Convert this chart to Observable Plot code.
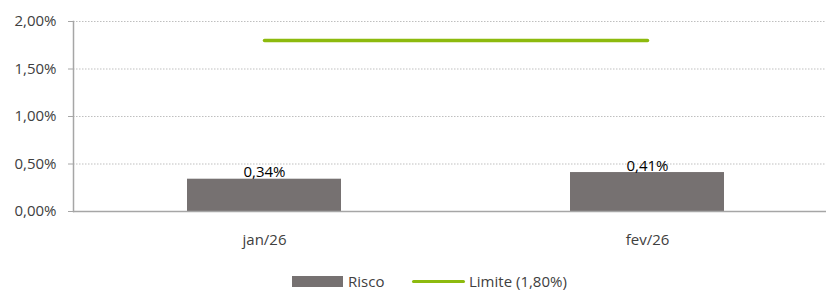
<!DOCTYPE html>
<html>
<head>
<meta charset="utf-8">
<script src="https://cdn.jsdelivr.net/npm/d3@7"></script>
<script src="https://cdn.jsdelivr.net/npm/@observablehq/plot@0.6"></script>
<style>
  html, body { margin: 0; padding: 0; background: #fff; }
  body { width: 828px; height: 292px; overflow: hidden; font-family: "Open Sans", sans-serif; }
  #legend { position: relative; height: 40px; font-size: 15px; color: #404040; }
  .item { position: absolute; top: 19px; display: flex; align-items: center; }
  .sw-bar { width: 51px; height: 11px; background: #767171; margin-right: 5px; }
  .sw-line { width: 53px; height: 3px; background: #8DBA0E; border-radius: 2px; margin-right: 4px; }
</style>
</head>
<body>
<div id="chart"></div>
<div id="legend">
  <div class="item" style="left:292px"><div class="sw-bar"></div><span>Risco</span></div>
  <div class="item" style="left:412px"><div class="sw-line"></div><span>Limite (1,80%)</span></div>
</div>
<script>
const categories = ["jan/26", "fev/26"];
const risco = [0.0034, 0.0041];
const limite = [0.018, 0.018];
const yTicks = [0, 0.005, 0.01, 0.015, 0.02];

const data = categories.map((c, i) => ({cat: c, risco: risco[i], limite: limite[i]}));
const fmt = v => (v * 100).toFixed(2).replace(".", ",") + "%";

const chart = Plot.plot({
  width: 828,
  height: 252,
  marginLeft: 73,
  marginRight: 2,
  marginTop: 21,
  marginBottom: 41,
  style: {fontFamily: "Open Sans, sans-serif", fontSize: "15px", color: "#404040", background: "#fff"},
  x: {domain: categories, paddingInner: 0.598, paddingOuter: 0.282, align: 0.53, label: null},
  y: {domain: [0, 0.02], label: null},
  marks: [
    Plot.gridY(yTicks.slice(1), {stroke: "#bfbfbf", strokeOpacity: 1, strokeDasharray: "1.5,1.5"}),
    Plot.barY(data, {x: "cat", y: "risco", fill: "#767171"}),
    Plot.ruleY([0], {stroke: "#a6a6a6", strokeWidth: 1.5}),
    Plot.frame({anchor: "left", stroke: "#a6a6a6", strokeWidth: 1.5}),
    Plot.axisY(yTicks, {tickFormat: fmt, tickSize: 5, tickPadding: 12, stroke: "#a6a6a6", fill: "#404040", fontSize: 15}),
    Plot.axisX({tickSize: 0, tickPadding: 23, fill: "#404040", fontSize: 15}),
    Plot.lineY(data, {x: "cat", y: "limite", stroke: "#8DBA0E", strokeWidth: 3.5, strokeLinecap: "round"}),
    Plot.text(data, {x: "cat", y: "risco", text: d => fmt(d.risco), lineAnchor: "bottom", dy: -2, fill: "#000", fontSize: 15})
  ]
});
document.getElementById("chart").appendChild(chart);
</script>
</body>
</html>
